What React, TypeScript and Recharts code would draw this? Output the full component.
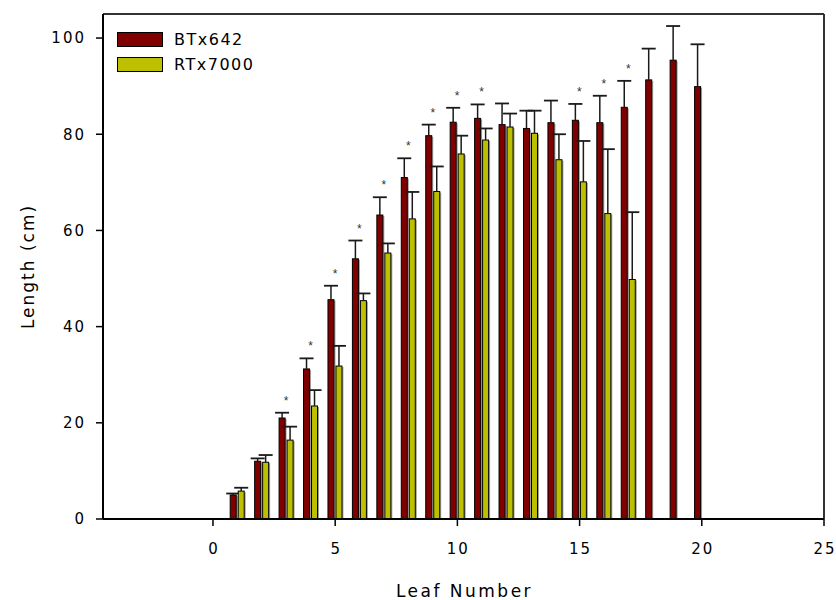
import React from "react";
import {
  ComposedChart,
  Bar,
  XAxis,
  YAxis,
  Legend,
  ReferenceLine,
} from "recharts";

const leaves = [1, 2, 3, 4, 5, 6, 7, 8, 9, 10, 11, 12, 13, 14, 15, 16, 17, 18, 19, 20];
const btx642 = [5.0, 12.0, 21.0, 31.2, 45.6, 54.1, 63.2, 71.0, 79.7, 82.5, 83.3, 82.0, 81.2, 82.4, 82.9, 82.4, 85.6, 91.3, 95.4, 89.9];
const btx642Err = [0.3, 0.6, 1.1, 2.2, 2.9, 3.8, 3.7, 4.0, 2.3, 3.0, 2.9, 4.4, 3.7, 4.6, 3.4, 5.6, 5.5, 6.5, 7.1, 8.8];
const rtx7000 = [5.8, 11.8, 16.4, 23.5, 31.8, 45.4, 55.3, 62.4, 68.1, 75.9, 78.8, 81.5, 80.2, 74.7, 70.1, 63.5, 49.8, null, null, null];
const rtx7000Err = [0.7, 1.5, 2.8, 3.3, 4.2, 1.5, 2.0, 5.6, 5.2, 3.8, 2.4, 2.8, 4.7, 5.3, 8.5, 13.4, 14.0, null, null, null];
// leaves where the difference is marked significant
const significant = [3, 4, 5, 6, 7, 8, 9, 10, 11, 15, 16, 17];

const xTicks = [0, 5, 10, 15, 20, 25];
const yTicks = [0, 20, 40, 60, 80, 100];

const RED = "#800000";
const YELLOW = "#bcc000";
const FONT = "'DejaVu Sans', 'Liberation Sans', Arial, sans-serif";

const data = leaves.map((leaf, i) => ({
  leaf,
  btx642: btx642[i],
  btx642Err: btx642Err[i],
  rtx7000: rtx7000[i],
  rtx7000Err: rtx7000Err[i],
  sig: significant.includes(leaf),
}));

function makeShape(fill: string, valueKey: string, errKey: string, showStar: boolean) {
  return function BarWithError(props: any) {
    const { x, y, width, height, payload } = props;
    const v = payload?.[valueKey];
    if (v == null || !height) return <g />;
    const pxPerUnit = height / v;
    const errPx = (payload[errKey] ?? 0) * pxPerUnit;
    const cx = x + width / 2;
    const capY = y - errPx;
    return (
      <g>
        <rect x={x + width} y={y + 1} width={1.5} height={height - 1} fill="#a0a0a0" />
        <rect x={x} y={y} width={width} height={height} fill={fill} stroke="#000" strokeWidth={1} />
        <line x1={cx} y1={y} x2={cx} y2={capY} stroke="#1a1a1a" strokeWidth={1.5} />
        <line x1={cx - 7} y1={capY} x2={cx + 7} y2={capY} stroke="#1a1a1a" strokeWidth={1.8} />
        {showStar && payload.sig ? (
          <text
            x={x + width + 1}
            y={capY - 8}
            textAnchor="middle"
            fontSize={12}
            fontFamily="'Liberation Sans', Arial, sans-serif"
            fill="#333"
          >
            *
          </text>
        ) : null}
      </g>
    );
  };
}

function YTick({ x, y, payload }: any) {
  return (
    <text x={x} y={y} dy="0.36em" textAnchor="end" fontSize={15} fontFamily={FONT} letterSpacing={2} fill="#000">
      {payload.value}
    </text>
  );
}

function XTick({ x, y, payload }: any) {
  return (
    <text x={x + 1} y={y} dy="0.71em" textAnchor="middle" fontSize={15} fontFamily={FONT} letterSpacing={2} fill="#000">
      {payload.value}
    </text>
  );
}

function XTitle({ viewBox }: any) {
  return (
    <text
      x={viewBox.x + viewBox.width / 2 + 1}
      y={viewBox.y + 77.5}
      textAnchor="middle"
      fontSize={17}
      fontFamily={FONT}
      letterSpacing={2.5}
      fill="#000"
    >
      Leaf Number
    </text>
  );
}

function YTitle({ viewBox }: any) {
  const cx = 34;
  const cy = viewBox.y + viewBox.height / 2;
  return (
    <text
      x={cx}
      y={cy}
      transform={`rotate(-90, ${cx}, ${cy})`}
      textAnchor="middle"
      fontSize={17}
      fontFamily={FONT}
      letterSpacing={2}
      fill="#000"
    >
      Length (cm)
    </text>
  );
}

function LegendBox({ payload }: any) {
  return (
    <div style={{ fontFamily: FONT, fontSize: 16, letterSpacing: 1.5 }}>
      {(payload || []).map((p: any) => (
        <div key={p.value} style={{ display: "flex", alignItems: "center", height: 25 }}>
          <span
            style={{
              display: "inline-block",
              width: 44,
              height: 13,
              background: p.color,
              border: "1px solid #000",
              marginRight: 11,
            }}
          />
          <span style={{ color: "#000" }}>{p.value}</span>
        </div>
      ))}
    </div>
  );
}

export default function App() {
  return (
    <div style={{ position: "absolute", left: 0, top: 0, width: 836, height: 600, background: "#fff" }}>
      <ComposedChart
        width={836}
        height={600}
        data={data}
        margin={{ top: 14, right: 12, bottom: 0, left: 0 }}
        barGap={2}
      >
        <XAxis
          dataKey="leaf"
          type="number"
          domain={[-4.5, 25]}
          ticks={xTicks}
          allowDataOverflow
          height={81}
          axisLine={{ stroke: "#000", strokeWidth: 2 }}
          tickLine={{ stroke: "#000", strokeWidth: 1.5 }}
          tickSize={7}
          tickMargin={17}
          tick={<XTick />}
          label={{ content: <XTitle /> }}
        />
        <YAxis
          type="number"
          domain={[0, 105]}
          ticks={yTicks}
          allowDataOverflow
          width={103}
          axisLine={{ stroke: "#000", strokeWidth: 2 }}
          tickLine={{ stroke: "#000", strokeWidth: 1.5 }}
          tickSize={7}
          tickMargin={10}
          tick={<YTick />}
          label={{ content: <YTitle /> }}
        />
        <ReferenceLine y={105} stroke="#333" strokeWidth={2} ifOverflow="visible" />
        <ReferenceLine x={25} stroke="#333" strokeWidth={2} ifOverflow="visible" />
        <Legend
          layout="vertical"
          align="center"
          verticalAlign="middle"
          wrapperStyle={{ left: 117, top: 27, width: 200 }}
          content={<LegendBox />}
        />
        <Bar
          dataKey="btx642"
          name="BTx642"
          fill={RED}
          barSize={6}
          isAnimationActive={false}
          shape={makeShape(RED, "btx642", "btx642Err", true)}
        />
        <Bar
          dataKey="rtx7000"
          name="RTx7000"
          fill={YELLOW}
          barSize={6}
          isAnimationActive={false}
          shape={makeShape(YELLOW, "rtx7000", "rtx7000Err", false)}
        />
      </ComposedChart>
    </div>
  );
}
